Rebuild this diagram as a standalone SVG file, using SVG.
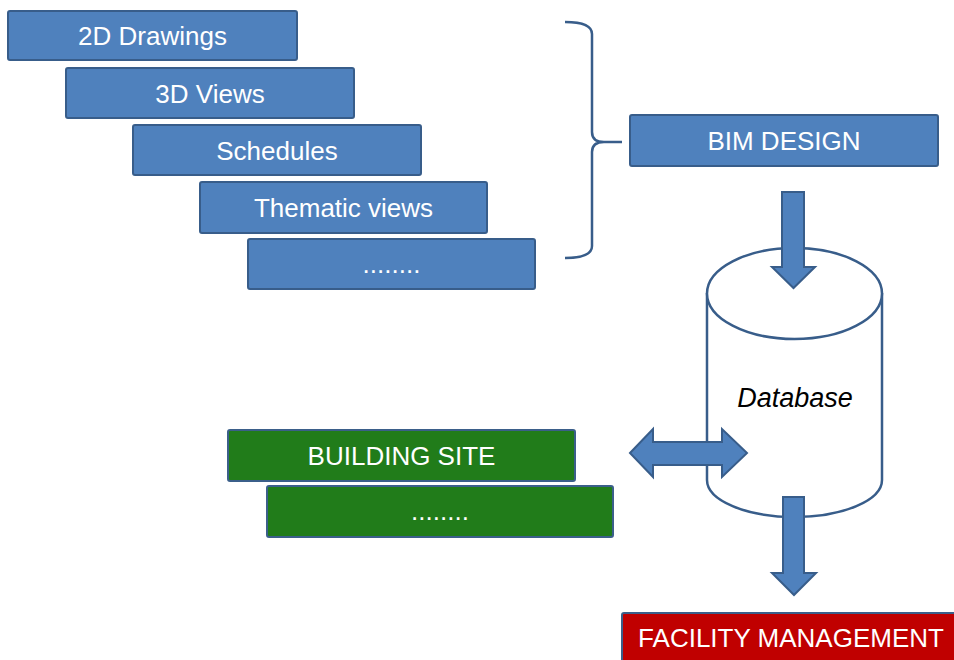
<svg xmlns="http://www.w3.org/2000/svg" width="954" height="660" viewBox="0 0 954 660">
<style>
.b{fill:#4f81bd;stroke:#385d8a;stroke-width:2}
.g{fill:#217c1a;stroke:#3b5f8a;stroke-width:2}
.r{fill:#c00000;stroke:#3b5f8a;stroke-width:2}
.t{font-family:"Liberation Sans",Arial,sans-serif;font-size:26px;fill:#ffffff;text-anchor:middle}
.ar{fill:#4f81bd;stroke:#385d8a;stroke-width:2;stroke-linejoin:miter}
.ln{fill:none;stroke:#385d8a;stroke-width:2.5}
</style>
<rect width="954" height="660" fill="#ffffff"/>
<g id="n2d"><rect class="b" x="8" y="11" width="289" height="49" rx="2"/><text class="t" x="152.5" y="45">2D Drawings</text></g>
<g id="n3d"><rect class="b" x="66" y="68" width="288" height="50" rx="2"/><text class="t" x="210" y="102.5">3D Views</text></g>
<g id="nsched"><rect class="b" x="133" y="125" width="288" height="50" rx="2"/><text class="t" x="277" y="159.5">Schedules</text></g>
<g id="nthem"><rect class="b" x="200" y="182" width="287" height="51" rx="2"/><text class="t" x="343.5" y="217">Thematic views</text></g>
<g id="ndots1"><rect class="b" x="248" y="239" width="287" height="50" rx="2"/><text class="t" x="391.5" y="273">........</text></g>
<g id="nbim"><rect class="b" x="630" y="115" width="308" height="51" rx="2"/><text class="t" x="784" y="150">BIM DESIGN</text></g>
<g id="ndb">
<path d="M707,293 L707,480 A87.5,37 0 0 0 882,480 L882,293" fill="#ffffff" stroke="#385d8a" stroke-width="2.5"/>
<ellipse cx="794.5" cy="293.5" rx="87.5" ry="45.5" fill="#ffffff" stroke="#385d8a" stroke-width="2.5"/>
<text x="795" y="407" font-family="'Liberation Sans',Arial,sans-serif" font-size="27" font-style="italic" fill="#000000" text-anchor="middle">Database</text>
</g>
<g id="nsite"><rect class="g" x="228" y="430" width="347" height="51" rx="2"/><text class="t" x="401.5" y="465">BUILDING SITE</text></g>
<g id="ndots2"><rect class="g" x="267" y="486" width="346" height="51" rx="2"/><text class="t" x="440" y="520">........</text></g>
<g id="nfm"><rect class="r" x="622" y="613" width="340" height="50" rx="2"/><text class="t" x="791" y="647">FACILITY MANAGEMENT</text></g>
<g id="connectors">
<path class="ln" d="M565,22 Q592,22 592,34 L592,132 Q592,142 604,142 L622,142 M604,142 Q592,142 592,152 L592,246 Q592,258 565,258"/>
<path class="ar" d="M782,192 L804,192 L804,267 L815,267 L793.5,288 L772,267 L782,267 Z"/>
<path class="ar" d="M630,453 L653,429 L653,442 L722,442 L722,429 L747,453 L722,477 L722,465 L653,465 L653,477 Z"/>
<path class="ar" d="M783,497 L804,497 L804,573 L816,573 L794,595 L772,573 L783,573 Z"/>
</g>
</svg>
